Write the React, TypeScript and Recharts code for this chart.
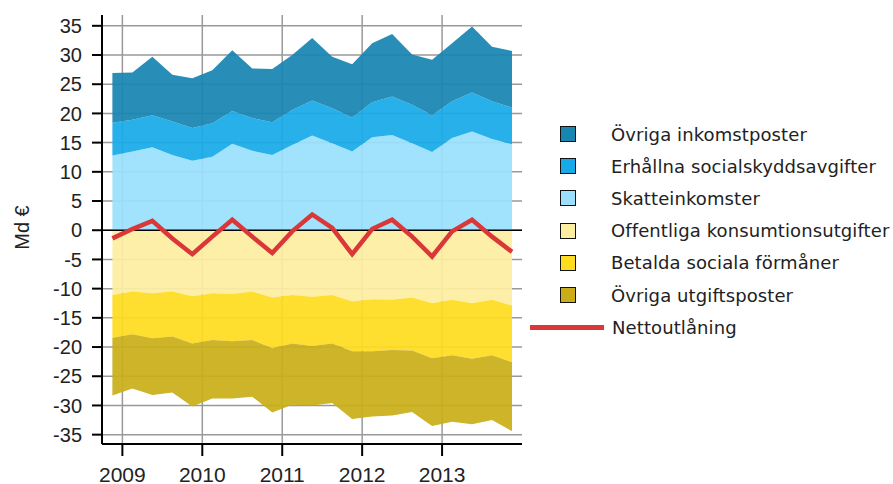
import React from 'react';
import { ComposedChart, Area, Line, XAxis, YAxis, CartesianGrid, ReferenceLine, Legend } from 'recharts';

// quarters, placed at the middle of each quarter on a year scale
const quarters = [
  '2008K4', '2009K1', '2009K2', '2009K3', '2009K4', '2010K1', '2010K2', '2010K3', '2010K4',
  '2011K1', '2011K2', '2011K3', '2011K4', '2012K1', '2012K2', '2012K3', '2012K4',
  '2013K1', '2013K2', '2013K3', '2013K4',
];
const time = [
  2008.875, 2009.125, 2009.375, 2009.625, 2009.875, 2010.125, 2010.375, 2010.625, 2010.875,
  2011.125, 2011.375, 2011.625, 2011.875, 2012.125, 2012.375, 2012.625, 2012.875,
  2013.125, 2013.375, 2013.625, 2013.875,
];

const skatteinkomster = [12.8, 13.5, 14.2, 12.9, 11.9, 12.6, 14.8, 13.6, 12.9, 14.6, 16.2, 14.9, 13.5, 15.9, 16.3, 14.9, 13.4, 15.8, 16.9, 15.6, 14.7];
const socialskydd = [5.6, 5.4, 5.5, 5.7, 5.6, 5.7, 5.6, 5.6, 5.6, 6.0, 6.0, 6.0, 5.8, 6.0, 6.6, 6.6, 6.3, 6.3, 6.7, 6.5, 6.3];
const ovrigaInkomster = [8.5, 8.1, 10.0, 8.0, 8.5, 9.1, 10.4, 8.5, 9.1, 9.4, 10.7, 8.8, 9.1, 10.1, 10.7, 8.6, 9.5, 9.9, 11.3, 9.3, 9.7];
const konsumtion = [-11.1, -10.5, -10.8, -10.5, -11.3, -10.8, -10.9, -10.5, -11.5, -11.1, -11.4, -11.1, -12.2, -11.8, -11.9, -11.5, -12.5, -11.9, -12.5, -11.9, -12.9];
const formaner = [-7.3, -7.3, -7.7, -7.7, -8.1, -8.0, -8.1, -8.3, -8.7, -8.3, -8.4, -8.3, -8.5, -8.9, -8.6, -9.1, -9.4, -9.5, -9.5, -9.5, -9.7];
const ovrigaUtgifter = [-9.9, -9.3, -9.7, -9.6, -10.8, -10.0, -9.8, -9.7, -11.0, -10.5, -10.2, -10.2, -11.6, -11.2, -11.2, -10.5, -11.6, -11.4, -11.2, -11.1, -11.8];
const nettoutlaning = [-1.4, 0.2, 1.6, -1.4, -4.1, -1.1, 1.8, -1.1, -3.9, -0.2, 2.7, 0.4, -4.1, 0.2, 1.8, -1.1, -4.5, -0.2, 1.8, -1.1, -3.7];

const yearTicks = [2009, 2010, 2011, 2012, 2013];
const valueTicks = [-35, -30, -25, -20, -15, -10, -5, 0, 5, 10, 15, 20, 25, 30, 35];

const data = quarters.map((q, i) => ({
  q,
  t: time[i],
  skatt: skatteinkomster[i],
  social: socialskydd[i],
  ovrInk: ovrigaInkomster[i],
  kons: konsumtion[i],
  form: formaner[i],
  ovrUtg: ovrigaUtgifter[i],
  netto: nettoutlaning[i],
}));

// legend order top to bottom
const legendItems = [
  { name: 'Övriga inkomstposter', color: '#1985b1' },
  { name: 'Erhållna socialskyddsavgifter', color: '#18aae8' },
  { name: 'Skatteinkomster', color: '#9ae0fd' },
  { name: 'Offentliga konsumtionsutgifter', color: '#fdeea0' },
  { name: 'Betalda sociala förmåner', color: '#fedc1e' },
  { name: 'Övriga utgiftsposter', color: '#c9ae19' },
];
const lineColor = '#da3838';

const LegendBox = () => (
  <div style={{ position: 'relative', width: 368, height: 240, fontFamily: 'DejaVu Sans', fontSize: 18, letterSpacing: 0.1, color: '#222' }}>
    {legendItems.map((it, i) => (
      <div key={it.name} style={{ position: 'absolute', left: 0, top: i * 32.2, height: 32, display: 'flex', alignItems: 'center' }}>
        <span style={{ display: 'inline-block', marginLeft: 35, width: 14, height: 14, background: it.color, border: '1.5px solid #111' }} />
        <span style={{ marginLeft: 35, whiteSpace: 'nowrap' }}>{it.name}</span>
      </div>
    ))}
    <div style={{ position: 'absolute', left: 0, top: 6 * 32.2, height: 32, display: 'flex', alignItems: 'center' }}>
      <span style={{ display: 'inline-block', marginLeft: 5, width: 74, height: 5, background: lineColor }} />
      <span style={{ marginLeft: 8, whiteSpace: 'nowrap' }}>Nettoutlåning</span>
    </div>
  </div>
);

const YLabel = (props: any) => {
  const { viewBox } = props;
  const x = viewBox.x + 22;
  const y = viewBox.y + viewBox.height / 2 - 2;
  return (
    <text x={x} y={y} transform={`rotate(-90, ${x}, ${y})`} textAnchor="middle" dominantBaseline="central"
      fontFamily="Liberation Sans, Arial" fontSize={20} fill="#222">
      Md €
    </text>
  );
};

export default function App() {
  return (
    <div style={{ position: 'absolute', left: 0, top: 0, width: 893, height: 484, background: '#fff' }}>
      <ComposedChart width={893} height={484} data={data} margin={{ top: 15, right: 371, bottom: 0, left: 0 }}>
        <CartesianGrid stroke="#999" strokeWidth={1.5} horizontalValues={valueTicks} verticalValues={yearTicks} />
        <XAxis dataKey="t" type="number" domain={[2008.745, 2013.995]} ticks={yearTicks} allowDecimals={false}
          height={40} tickSize={12} tickMargin={11} stroke="#000" strokeWidth={2}
          tick={{ fill: '#222', fontSize: 21, fontFamily: 'Liberation Sans, Arial' }} tickLine={{ stroke: '#000', strokeWidth: 2 }} />
        <XAxis xAxisId="top" orientation="top" dataKey="t" type="number" domain={[2008.745, 2013.995]} height={0}
          tick={false} tickLine={false} axisLine={{ stroke: '#000', strokeWidth: 2 }} />
        <YAxis type="number" domain={[-36.6, 36.85]} ticks={valueTicks} width={102} tickSize={10} tickMargin={10}
          stroke="#000" strokeWidth={2} interval={0}
          tick={{ fill: '#222', fontSize: 20, fontFamily: 'Liberation Sans, Arial' }} tickLine={{ stroke: '#000', strokeWidth: 2 }}
          label={<YLabel />} />
        <YAxis yAxisId="right" orientation="right" domain={[-36.6, 36.85]} width={0} tick={false} tickLine={false}
          axisLine={{ stroke: '#000', strokeWidth: 2 }} />
        <Area type="linear" dataKey="skatt" stackId="pos" stroke="none" fill={legendItems[2].color} fillOpacity={0.93} isAnimationActive={false} />
        <Area type="linear" dataKey="social" stackId="pos" stroke="none" fill={legendItems[1].color} fillOpacity={0.93} isAnimationActive={false} />
        <Area type="linear" dataKey="ovrInk" stackId="pos" stroke="none" fill={legendItems[0].color} fillOpacity={0.93} isAnimationActive={false} />
        <Area type="linear" dataKey="kons" stackId="neg" stroke="none" fill={legendItems[3].color} fillOpacity={0.93} isAnimationActive={false} />
        <Area type="linear" dataKey="form" stackId="neg" stroke="none" fill={legendItems[4].color} fillOpacity={0.93} isAnimationActive={false} />
        <Area type="linear" dataKey="ovrUtg" stackId="neg" stroke="none" fill={legendItems[5].color} fillOpacity={0.93} isAnimationActive={false} />
        <ReferenceLine y={0} stroke="#000" strokeWidth={1.5} />
        <Line type="linear" dataKey="netto" stroke={lineColor} strokeWidth={4.5} dot={false} activeDot={false} isAnimationActive={false} />
        <Legend verticalAlign="middle" align="center" layout="horizontal" content={() => <LegendBox />}
          wrapperStyle={{ left: 525, top: 118, width: 368, height: 240 }} />
      </ComposedChart>
    </div>
  );
}
